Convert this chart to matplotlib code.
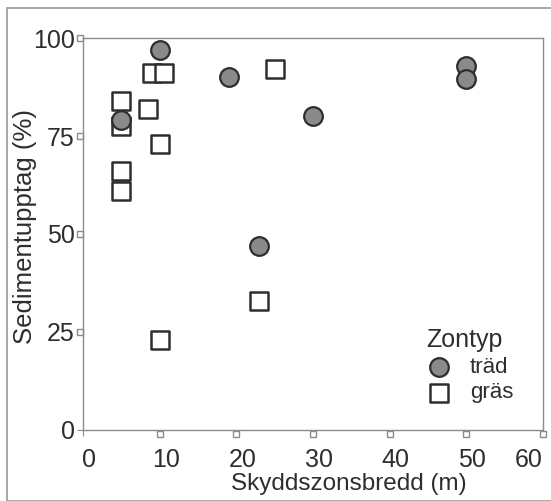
import matplotlib.pyplot as plt
import matplotlib.transforms as mtransforms
from matplotlib.patches import Rectangle

# data
trad_x = [10, 19, 5, 30, 23, 50, 50]
trad_y = [97, 90, 79, 80, 47, 93, 89.5]
gras_x = [5, 5, 5, 5, 9, 10.5, 8.5, 10, 10, 23, 25]
gras_y = [84, 77.5, 66, 61, 91, 91, 82, 73, 23, 33, 92]
xticks = [0, 10, 20, 30, 40, 50, 60]
yticks = [0, 25, 50, 75, 100]

plt.rcParams['font.family'] = ['Liberation Sans', 'DejaVu Sans']
ink = '#2e2e2e'
grey = '#8c8c8c'

fig = plt.figure(figsize=(5.51, 5.01), dpi=100)
fig.patches.append(Rectangle((0.012, 0.0), 0.99, 0.985, transform=fig.transFigure,
                             fill=False, edgecolor='#9a9a9a', linewidth=1.2))
ax = fig.add_axes([0.151, 0.142, 0.834, 0.782])

ax.scatter(gras_x, gras_y, marker='s', s=185, facecolor='white', edgecolor=ink,
           linewidth=1.8, zorder=3, label='gräs')
ax.scatter(trad_x, trad_y, marker='o', s=180, facecolor='#8a8a8a', edgecolor=ink,
           linewidth=1.6, zorder=4, label='träd')

ax.set_xlim(0, 60)
ax.set_ylim(0, 100)
ax.set_xticks(xticks)
ax.set_yticks(yticks)
ax.tick_params(length=4, width=0.8, color=grey, labelsize=18, labelcolor=ink)
ax.tick_params(axis='x', pad=9)
ax.tick_params(axis='y', pad=2)
# the x labels sit a bit to the right of their ticks in the original
shift = mtransforms.ScaledTranslation(0.06, 0, fig.dpi_scale_trans)
xlabs = ax.get_xticklabels()
for lab in xlabs[:-1]:
    lab.set_transform(lab.get_transform() + shift)
xlabs[-1].set_horizontalalignment('right')
for s in ax.spines.values():
    s.set_color(grey)
    s.set_linewidth(1.0)

# little hollow rectangles used as tick marks
tx = mtransforms.blended_transform_factory(ax.transData, ax.transAxes)
ty = mtransforms.blended_transform_factory(ax.transAxes, ax.transData)
ax.plot(xticks[1:], [-0.01] * 6, 's', ms=5, mfc='white', mec=grey, mew=1,
        transform=tx, clip_on=False)
ax.plot([-0.008] * 4, yticks[1:], 's', ms=5, mfc='white', mec=grey, mew=1,
        transform=ty, clip_on=False)

ax.set_xlabel('Skyddszonsbredd (m)', fontsize=17.5, color=ink)
ax.set_ylabel('Sedimentupptag (%)', fontsize=18.5, color=ink)
ax.xaxis.set_label_coords(0.578, -0.11)
ax.yaxis.set_label_coords(-0.10, 0.52)

h, l = ax.get_legend_handles_labels()
leg = ax.legend(h[::-1], l[::-1], title='Zontyp', loc='lower right',
                bbox_to_anchor=(0.955, 0.045), frameon=False, fontsize=16,
                title_fontsize=18, handletextpad=0.4, labelspacing=0.2,
                borderaxespad=0)
leg.get_title().set_color(ink)
for t in leg.get_texts():
    t.set_color(ink)

fig.savefig('out.png', dpi=100)
